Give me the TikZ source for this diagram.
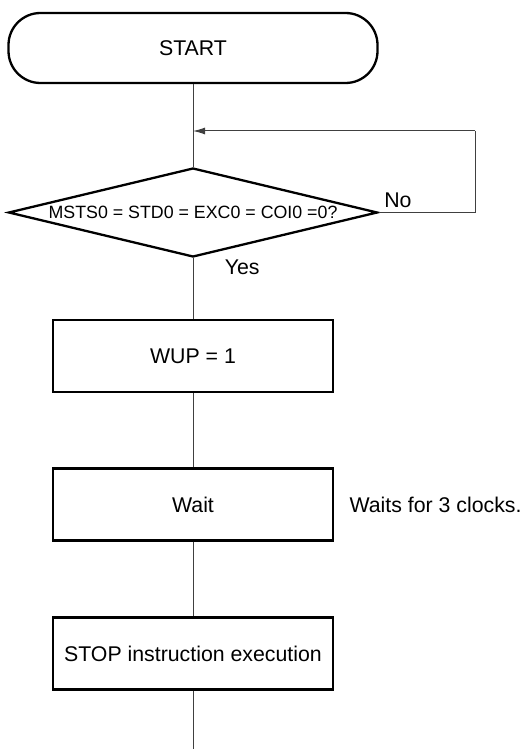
\documentclass[tikz,border=0pt]{standalone}
\usepackage{fontspec}
\setmainfont{Liberation Sans}
\usetikzlibrary{shapes.geometric,positioning,arrows.meta,calc}

\begin{document}
\begin{tikzpicture}[
  x=1pt, y=-1pt,
  font=\fontsize{21.3}{25}\selectfont,
  >={Latex[length=12pt,width=7pt]},
  terminal/.style={rectangle, rounded corners=32pt, draw=black, line width=2.3pt, minimum width=369pt, minimum height=70pt, align=center},
  process/.style={rectangle, draw=black, line width=2.3pt, minimum width=280pt, minimum height=72pt, align=center},
  decision/.style={diamond, draw=black, line width=2.3pt, aspect=4.12, minimum width=369pt, minimum height=89pt, inner sep=0pt, font=\fontsize{17.8}{20}\selectfont},
  line/.style={line width=1pt, draw=black!75},
  arr/.style={line, ->}
]
\useasboundingbox (0,0) rectangle (521,749);

%% ============ Main column (x = 193) ============
\node[terminal] (start) at (193,48)    {START};
\node[decision] (check) at (193,212.5) {MSTS0 = STD0 = EXC0 = COI0 =0?};
\node[process]  (wup)   at (193,356)   {WUP = 1};
\node[process]  (wait)  at (193,504.5) {Wait};
\node[process]  (stop)  at (193,653.5) {STOP instruction execution};
\node[anchor=west] (note) at (346,504.5) {Waits for 3 clocks.};

\coordinate (merge) at (193,131);
\coordinate (back)  at (475,131);
\coordinate (done)  at (193,749);

\draw[line] (start) -- (check);
\draw[line] (check) -- node[pos=0.15, right=28pt]{Yes} (wup);
\draw[line] (wup) -- (wait);
\draw[line] (wait) -- (stop);
\draw[line] (stop) -- (done);

%% No loop: right of the diamond, back up to the merge point
\draw[line] (check.east) -| node[pos=0.1, above, yshift=1pt]{No} (back);
\draw[arr] (back) -- (merge);

\end{tikzpicture}
\end{document}
